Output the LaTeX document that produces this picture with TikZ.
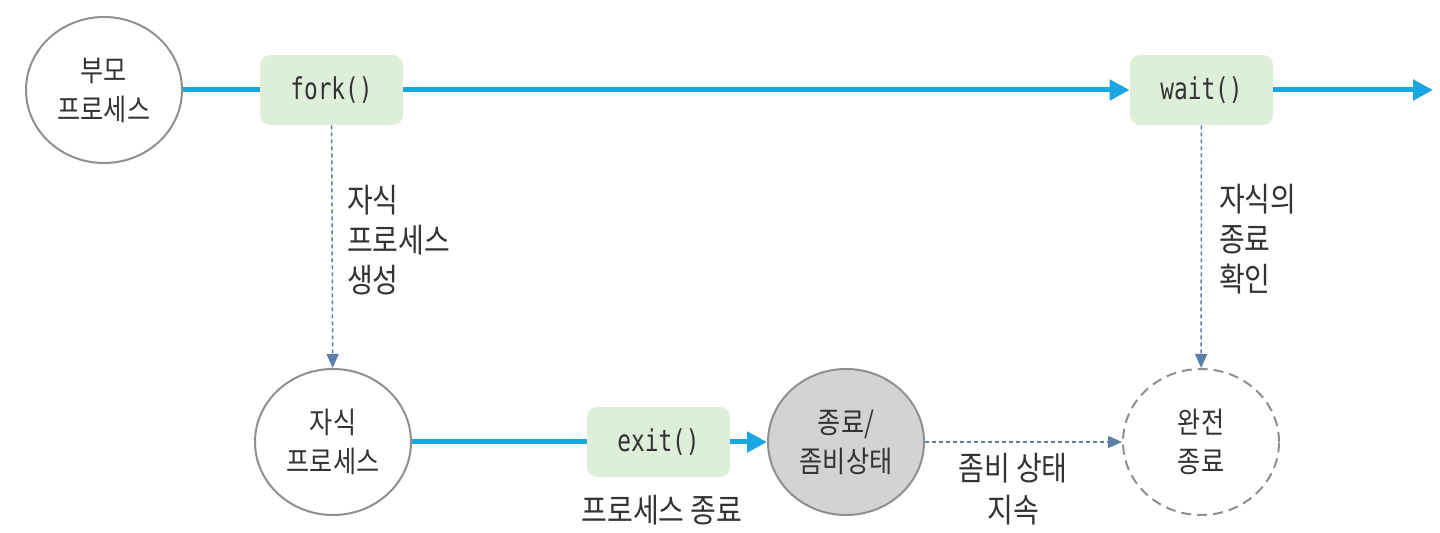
\documentclass[tikz,border=0pt]{standalone}
\usepackage{fontspec}
\newfontfamily\krfont[FakeStretch=0.85]{Noto Sans CJK KR}
\newfontfamily\codefont[FakeStretch=0.76]{DejaVu Sans Mono}
\usetikzlibrary{positioning,arrows.meta,shapes.geometric}

\definecolor{flowblue}{HTML}{1AA6E0}
\definecolor{boxgreen}{HTML}{DDEFD8}
\definecolor{rimgray}{HTML}{8F8F8F}
\definecolor{zombiegray}{HTML}{D3D3D3}
\definecolor{linkblue}{HTML}{5B7FA6}
\definecolor{txtgray}{HTML}{333333}

\begin{document}
\begin{tikzpicture}[
  x=0.5pt, y=-0.5pt,
  proc/.style={ellipse, draw=rimgray, line width=1pt, minimum width=78pt, minimum height=73pt,
    inner sep=0pt, align=center, text=txtgray, font=\krfont\fontsize{14.8}{19.5}\selectfont},
  call/.style={rounded corners=5pt, fill=boxgreen, minimum width=71.5pt, minimum height=35pt,
    text=txtgray, font=\codefont\fontsize{15}{16}\selectfont},
  flow/.style={flowblue, line width=2.5pt},
  flowarrow/.style={flow, -{Triangle[length=10pt,width=10pt]}},
  link/.style={linkblue, line width=0.75pt, dash pattern=on 2pt off 1.5pt,
    -{Triangle[length=7pt,width=6pt]}},
  note/.style={align=left, text=txtgray, font=\krfont\fontsize{16.5}{20}\selectfont},
]
  \useasboundingbox (0,0) rectangle (1440,533);

  % Processes
  \node[proc] (parent) at (104,90) {부모\\프로세스};
  \node[proc] (child) at (333,442) {자식\\프로세스};
  \node[proc, fill=zombiegray] (zombie) at (846,442) {종료/\\좀비상태};
  \node[proc, draw=none] (done) at (1201,442) {완전\\종료};
  \draw[rimgray, line width=1pt, dash pattern=on 5pt off 3pt] (done.center) ellipse (39pt and 36.5pt);

  % System calls
  \node[call] (fork) at (331.5,90) {fork()};
  \node[call] (wait) at (1201.5,90) {wait()};
  \node[call] (exit) at (658.5,442) {exit()};
  \coordinate (tail) at (1433,90);

  % Main flows
  \draw[flow] (parent) -- (fork);
  \draw[flowarrow] (fork) -- (wait);
  \draw[flowarrow] (wait) -- (tail);
  \draw[flow] (child) -- (exit);
  \draw[flowarrow] (exit) -- (zombie);

  % Dashed links
  \draw[link] (fork) -- (child);
  \draw[link] (wait) -- (done);
  \draw[link] (zombie) -- (done);

  % Labels
  \node[note, anchor=west] (forknote) at (340,240) {자식\\프로세스\\생성};
  \node[note, anchor=west] (waitnote) at (1212,239) {자식의\\종료\\확인};
  \node[note, align=center] (exitnote) at (662,510) {프로세스 종료};
  \node[note, align=center, font=\krfont\fontsize{16.5}{21}\selectfont] (zombienote) at (1013,489) {좀비 상태\\지속};
\end{tikzpicture}
\end{document}
